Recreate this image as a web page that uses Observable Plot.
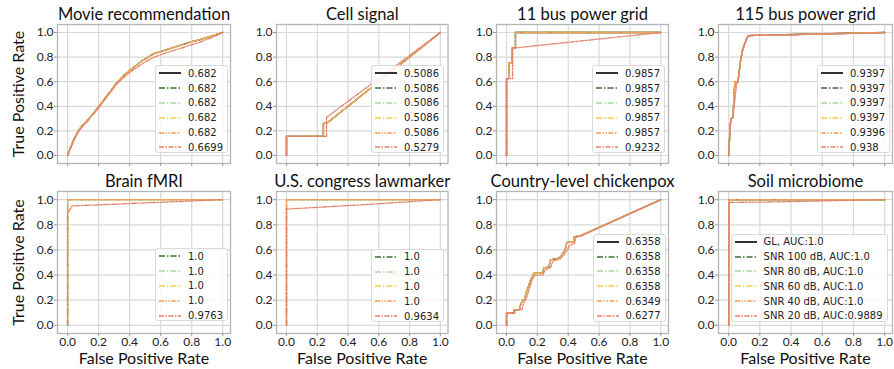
<!DOCTYPE html>
<html><head><meta charset="utf-8">
<script src="https://cdn.jsdelivr.net/npm/d3@7"></script>
<script src="https://cdn.jsdelivr.net/npm/@observablehq/plot@0.6"></script>
<style>
body{margin:0;background:#fff;}
#fig{position:relative;width:894px;height:369px;overflow:hidden;font-family:Lato,sans-serif;background:#fff;}
#fig svg.plotpanel{position:absolute;}
.leg{position:absolute;box-sizing:border-box;background:rgba(255,255,255,0.85);border:1px solid #dadada;border-radius:3px;font-family:"DejaVu Sans",sans-serif;font-size:10px;color:#222;padding:0 4px 0 3px;}
.leg .row{display:flex;align-items:center;height:14.8px;white-space:nowrap;}
.leg .row svg{margin-right:7px;flex:none;}
</style></head><body><div id="fig"></div>
<script>
// ---- series ----
const seriesNames = ["GL", "SNR 100 dB", "SNR 80 dB", "SNR 60 dB", "SNR 40 dB", "SNR 20 dB"];
const seriesColors = ["#000000", "#3b6e32", "#a9d69c", "#f6cd4a", "#f29e5c", "#e5836a"];
const seriesDash = [null, "6,2,1.5,2", "6,2,1.5,2", "6,2,1.5,2", "5,1.5,1.5,1.5,1.5,1.5", "5,1.5,1.5,1.5"];
const tickValues = [0, 0.2, 0.4, 0.6, 0.8, 1.0];

// ---- panel titles ----
const titles = ["Movie recommendation", "Cell signal", "11 bus power grid", "115 bus power grid",
  "Brain fMRI", "U.S. congress lawmarker", "Country-level chickenpox", "Soil microbiome"];

// ---- ROC curves [FPR, TPR] ----
const movieMain = [[0,0],[0.02,0.07],[0.04,0.13],[0.06,0.18],[0.08,0.22],[0.1,0.25],[0.13,0.29],[0.16,0.33],[0.19,0.38],[0.22,0.43],[0.25,0.48],[0.28,0.53],[0.31,0.58],[0.34,0.62],[0.37,0.66],[0.4,0.69],[0.44,0.73],[0.48,0.77],[0.52,0.8],[0.56,0.83],[0.6,0.845],[0.65,0.865],[0.7,0.885],[0.75,0.905],[0.8,0.925],[0.85,0.94],[0.9,0.96],[0.95,0.98],[1,1]];
const movieLow = [[0,0],[0.02,0.06],[0.04,0.12],[0.06,0.17],[0.08,0.21],[0.1,0.24],[0.13,0.28],[0.16,0.33],[0.19,0.37],[0.22,0.42],[0.25,0.47],[0.28,0.52],[0.31,0.57],[0.34,0.61],[0.37,0.645],[0.4,0.675],[0.44,0.71],[0.48,0.745],[0.52,0.775],[0.56,0.8],[0.6,0.82],[0.65,0.84],[0.7,0.86],[0.75,0.88],[0.8,0.9],[0.85,0.92],[0.9,0.945],[0.95,0.97],[1,1]];
const cellMain = [[0,0],[0,0.155],[0.24,0.155],[0.24,0.26],[0.27,0.27],[1,1]];
const cellLow = [[0,0],[0,0.155],[0.26,0.155],[0.26,0.31],[1,1]];
const bus11Main = [[0,0],[0,0.625],[0.015,0.625],[0.015,0.75],[0.037,0.75],[0.037,0.875],[0.058,0.875],[0.058,1],[1,1]];
const bus11Low = [[0,0],[0,0.625],[0.04,0.625],[0.04,0.875],[0.06,0.875],[1,1]];
const bus115Main = [[0,0],[0.01,0.24],[0.015,0.3],[0.028,0.31],[0.035,0.5],[0.04,0.6],[0.06,0.6],[0.075,0.76],[0.088,0.85],[0.1,0.9],[0.125,0.975],[1,1]];
const bus115Low = [[0,0],[0.01,0.24],[0.015,0.3],[0.028,0.31],[0.04,0.45],[0.05,0.58],[0.06,0.6],[0.075,0.76],[0.088,0.85],[0.1,0.9],[0.125,0.975],[1,1]];
const brainMain = [[0,0],[0,1],[1,1]];
const brainLow = [[0,0],[0,0.9],[0.005,0.9],[0.03,0.95],[1,1]];
const congressMain = [[0,0],[0,1],[1,1]];
const congressLow = [[0,0],[0,0.925],[0.5,0.96],[1,1]];
const chickenMain = [[0,0],[0,0.098],[0.047,0.098],[0.047,0.125],[0.083,0.125],[0.09,0.16],[0.104,0.2],[0.115,0.2],[0.13,0.27],[0.157,0.36],[0.178,0.415],[0.231,0.415],[0.242,0.455],[0.274,0.465],[0.285,0.52],[0.338,0.534],[0.358,0.56],[0.38,0.6],[0.39,0.66],[0.433,0.66],[0.44,0.706],[0.475,0.71],[1,1]];
const chickenLow = [[0,0],[0,0.098],[0.055,0.098],[0.055,0.125],[0.1,0.125],[0.11,0.17],[0.12,0.2],[0.13,0.22],[0.145,0.28],[0.165,0.36],[0.185,0.4],[0.235,0.4],[0.25,0.44],[0.285,0.46],[0.3,0.51],[0.35,0.53],[0.37,0.56],[0.395,0.6],[0.41,0.64],[0.44,0.65],[0.45,0.7],[0.48,0.71],[1,1]];
const soilMain = [[0,0],[0,1],[1,1]];
const soilLow = [[0,0],[0,0.978],[0.3,0.982],[0.6,0.99],[1,1]];

// ---- legend labels (null = no legend entry / curve) ----
const movieAuc = ["0.682", "0.682", "0.682", "0.682", "0.682", "0.6699"];
const cellAuc = ["0.5086", "0.5086", "0.5086", "0.5086", "0.5086", "0.5279"];
const bus11Auc = ["0.9857", "0.9857", "0.9857", "0.9857", "0.9857", "0.9232"];
const bus115Auc = ["0.9397", "0.9397", "0.9397", "0.9397", "0.9396", "0.938"];
const brainAuc = [null, "1.0", "1.0", "1.0", "1.0", "0.9763"];
const congressAuc = [null, "1.0", "1.0", "1.0", "1.0", "0.9634"];
const chickenAuc = ["0.6358", "0.6358", "0.6358", "0.6358", "0.6349", "0.6277"];
const soilAuc = ["GL, AUC:1.0", "SNR 100 dB, AUC:1.0", "SNR 80 dB, AUC:1.0", "SNR 60 dB, AUC:1.0", "SNR 40 dB, AUC:1.0", "SNR 20 dB, AUC:0.9889"];

const curveSets = [
  [movieMain, movieMain, movieMain, movieMain, movieMain, movieLow],
  [cellMain, cellMain, cellMain, cellMain, cellMain, cellLow],
  [bus11Main, bus11Main, bus11Main, bus11Main, bus11Main, bus11Low],
  [bus115Main, bus115Main, bus115Main, bus115Main, bus115Main, bus115Low],
  [brainMain, brainMain, brainMain, brainMain, brainMain, brainLow],
  [congressMain, congressMain, congressMain, congressMain, congressMain, congressLow],
  [chickenMain, chickenMain, chickenMain, chickenMain, chickenMain, chickenLow],
  [soilMain, soilMain, soilMain, soilMain, soilMain, soilLow]
];
const labelSets = [movieAuc, cellAuc, bus11Auc, bus115Auc, brainAuc, congressAuc, chickenAuc, soilAuc];

// ---- layout ----
const colFrames = [[57, 230], [275.5, 447], [496, 668], [718, 892]];
const rowFrames = [[24, 163], [191, 333]];
const legendTop = [65, 65, 65, 65, 248, 248.5, 233.5, 233.5];
const legendRight = [228, 444, 665, 890, 228, 444, 665.5, 887.5];
const ML = 55, MR = 6, MT = 26, MB = 38;

const fig = document.getElementById("fig");

titles.forEach((title, p) => {
  const col = p % 4, row = Math.floor(p / 4);
  const [fl, fr] = colFrames[col], [ft, fb] = rowFrames[row];
  const marks = [
    Plot.gridX(tickValues, {stroke: "#d9d9d9", strokeOpacity: 1, strokeWidth: 1.2}),
    Plot.gridY(tickValues, {stroke: "#d9d9d9", strokeOpacity: 1, strokeWidth: 1.2}),
    Plot.frame({stroke: "#b5b5b5", strokeWidth: 1.3}),
    Plot.axisX(tickValues, {tickSize: 3, tickPadding: 1, fontSize: 12, stroke: "#999", fill: "#222",
      tickFormat: row === 0 ? () => "" : d3.format(".1f"), label: null}),
    Plot.axisY(tickValues, {tickSize: 3, tickPadding: 1, fontSize: 12, stroke: "#999", fill: "#222",
      tickFormat: d3.format(".1f"), label: null}),
    Plot.text([title], {text: d => d, frameAnchor: "top", textAnchor: "middle", dy: -5, lineAnchor: "bottom", fontSize: 16.5, fill: "#111"})
  ];
  if (col === 0) marks.push(Plot.text(["True Positive Rate"], {text: d => d, frameAnchor: "left", textAnchor: "middle", lineAnchor: "middle", dx: -39, rotate: -90, fontSize: 16, fill: "#111"}));
  if (row === 1) marks.push(Plot.text(["False Positive Rate"], {text: d => d, frameAnchor: "bottom", textAnchor: "middle", dy: 30, lineAnchor: "bottom", fontSize: 16, fill: "#111"}));
  curveSets[p].forEach((pts, s) => {
    if (labelSets[p][s] == null) return;
    marks.push(Plot.line(pts, {x: d => d[0], y: d => d[1], stroke: seriesColors[s],
      strokeWidth: 1.3, strokeDasharray: seriesDash[s] || undefined}));
  });
  const svg = Plot.plot({
    width: (fr - fl) + ML + MR, height: (fb - ft) + MT + MB,
    marginLeft: ML, marginRight: MR, marginTop: MT, marginBottom: MB,
    x: {domain: [-0.065, 1.05]},
    y: {domain: [-0.065, 1.065]},
    style: {background: "transparent", overflow: "visible", maxWidth: "none", fontFamily: "Lato", color: "#222"},
    marks
  });
  svg.classList.add("plotpanel");
  svg.style.left = (fl - ML) + "px";
  svg.style.top = (ft - MT) + "px";
  fig.appendChild(svg);
});

// legends on top
labelSets.forEach((labels, p) => {
  const entries = labels.map((l, s) => ({l, s})).filter(e => e.l != null);
  const leg = document.createElement("div");
  leg.className = "leg";
  leg.style.top = legendTop[p] + "px";
  leg.style.right = (894 - legendRight[p]) + "px";
  leg.style.height = (7.5 + (entries.length - 1) * 14.8 + 6.5) + "px";
  entries.forEach(({l, s}) => {
    const r = document.createElement("div");
    r.className = "row";
    const dash = seriesDash[s] ? ` stroke-dasharray="${seriesDash[s]}"` : "";
    r.innerHTML = `<svg width="22" height="6"><line x1="0" y1="3" x2="22" y2="3" stroke="${seriesColors[s]}" stroke-width="${s === 0 ? 1.6 : 1.3}"${dash}/></svg><span>${l}</span>`;
    leg.appendChild(r);
  });
  fig.appendChild(leg);
});
</script></body></html>
